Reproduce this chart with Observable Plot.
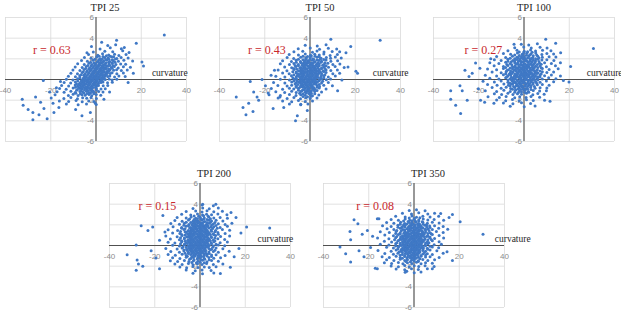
<!DOCTYPE html>
<html>
<head>
<meta charset="utf-8">
<script src="https://cdn.jsdelivr.net/npm/d3@7"></script>
<script src="https://cdn.jsdelivr.net/npm/@observablehq/plot@0.6"></script>
<style>
  html, body { margin: 0; padding: 0; background: #ffffff; }
  #chart { position: relative; width: 621px; height: 311px; overflow: hidden; background: #ffffff; }
</style>
</head>
<body>
<div id="chart"></div>
<script>
// ---------- data ----------
const titles = ["TPI 25", "TPI 50", "TPI 100", "TPI 200", "TPI 350"];
const rValues = ["0.63", "0.43", "0.27", "0.15", "0.08"];
const xTicks = [-40, -20, 0, 20, 40];
const yTicks = [-6, -4, -2, 0, 2, 4, 6];
const axisLabel = "curvature";

const tpi25 = [
[30.2,4.3],[17.8,3.5],[9.1,3.8],[20.3,1.7],[21,1.3],[16.5,0.6],[14.2,-0.3],[-23.3,-0.1],[-15.7,-0.2],[-32.6,-1.9],[-32.2,-2.5],[-26.7,-1.7],[-30,-2.9],[-27.9,-3.2],[-27.9,-3.9],[-25.2,-3.4],[-21.6,-3.8],[-24.5,-2.2],[-23,-2.8],[-18.6,-3.2],[-16.4,-2.7],[-6.2,-3.5],[-2.5,-3.2],[-0.3,-2.3],[-20.5,-1.2],[-19,-2.3],[-17.5,-0.8],[-9,-2.9],[3.5,-1.9],[6,-1.2],[12.5,3.1],[2.5,3.6],[-4,2.6],[-2,3.2],
[5.2,3.28],[8.7,3.36],
[1.8,2.95],[6.3,3.07],[11.2,2.98],
[-1.2,2.66],[3.9,2.74],[7.4,2.69],[11.8,2.78],[14.6,2.62],
[-3.3,2.43],[0.8,2.35],[2.9,2.48],[5.6,2.37],[8.2,2.45],[10.1,2.33],[13.3,2.41],
[-5.1,2.12],[-2.2,2.05],[0.3,2.17],[1.9,2.02],[3.8,2.14],[5.3,2.08],[6.9,2.19],[9.2,2.04],[11.1,2.13],[14.2,2.07],
[-6.4,1.83],[-3.8,1.76],[-1.3,1.87],[0.9,1.74],[2.2,1.85],[3.4,1.79],[4.8,1.88],[6.1,1.73],[7.7,1.82],[9.9,1.77],[12.3,1.86],[16.2,1.79],
[-8.1,1.52],[-5.2,1.46],[-3.1,1.57],[-1.8,1.44],[-0.2,1.53],[1.3,1.47],[2.4,1.58],[3.3,1.43],[4.2,1.55],[5.8,1.49],[7.2,1.56],[8.8,1.45],[10.9,1.51],[13.1,1.48],
[-9.2,1.21],[-6.1,1.16],[-4.3,1.27],[-2.8,1.13],[-1.1,1.24],[0.2,1.18],[1.1,1.26],[2.1,1.12],[3.2,1.22],[4.1,1.15],[5.2,1.28],[6.8,1.17],[8.1,1.25],[9.8,1.11],[12.1,1.23],[15.2,1.19],
[-10.2,0.92],[-7.1,0.86],[-5.3,0.97],[-3.9,0.84],[-2.1,0.93],[-0.8,0.88],[0.1,0.96],[1.2,0.83],[2.1,0.91],[3.1,0.87],[3.9,0.98],[5.1,0.85],[6.2,0.94],[7.8,0.89],[9.1,0.95],[11.2,0.86],[13.8,0.92],
[-11.1,0.61],[-8.2,0.56],[-6.1,0.67],[-4.8,0.54],[-3.2,0.63],[-1.9,0.58],[-0.9,0.66],[0.3,0.53],[1.1,0.62],[2.2,0.57],[3.1,0.68],[4.2,0.55],[5.1,0.64],[6.3,0.59],[7.1,0.65],[9.2,0.56],[12.1,0.62],
[-12.2,0.32],[-9.1,0.26],[-7.2,0.37],[-5.1,0.24],[-4.2,0.33],[-2.8,0.28],[-1.9,0.36],[-0.8,0.23],[0.2,0.31],[1.2,0.27],[2.1,0.38],[2.9,0.22],[4.1,0.34],[5.2,0.29],[6.1,0.35],[8.2,0.25],[10.1,0.33],[12.9,0.28],
[-13.1,0.02],[-10.2,-0.04],[-8.1,0.07],[-6.2,-0.06],[-4.9,0.03],[-4.1,-0.02],[-2.9,0.06],[-2.1,-0.07],[-1.1,0.04],[0.1,-0.03],[0.9,0.05],[2.1,-0.05],[3.2,0.08],[4.1,-0.01],[5.8,0.04],[7.1,-0.06],[9.2,0.03],
[-14.1,-0.28],[-11.2,-0.34],[-9.1,-0.23],[-7.2,-0.36],[-6.1,-0.27],[-5.2,-0.32],[-3.9,-0.24],[-3.1,-0.35],[-2.2,-0.26],[-0.9,-0.33],[0.2,-0.25],[1.1,-0.37],[2.2,-0.29],[3.1,-0.23],[5.1,-0.31],[7.2,-0.27],
[-15.2,-0.58],[-12.1,-0.64],[-9.2,-0.53],[-8.1,-0.66],[-6.9,-0.57],[-5.8,-0.62],[-5.1,-0.54],[-3.8,-0.67],[-3.1,-0.56],[-1.9,-0.63],[-0.8,-0.55],[0.2,-0.65],[1.1,-0.59],[3.2,-0.61],[5.2,-0.57],
[-16.1,-0.88],[-13.2,-0.94],[-10.1,-0.83],[-8.2,-0.96],[-7.1,-0.87],[-6.2,-0.92],[-4.9,-0.84],[-4.1,-0.95],[-2.8,-0.86],[-1.9,-0.93],[0.1,-0.85],[2.2,-0.91],[4.1,-0.89],
[-17.2,-1.18],[-14.1,-1.24],[-11.1,-1.13],[-9.2,-1.26],[-7.1,-1.17],[-5.9,-1.22],[-4.2,-1.14],[-3.1,-1.27],[-1.8,-1.16],[-0.9,-1.23],[1.2,-1.15],[3.1,-1.21],
[-18.1,-1.48],[-12.2,-1.54],[-10.1,-1.43],[-7.9,-1.56],[-6.2,-1.47],[-4.8,-1.52],[-3.1,-1.44],[-1.9,-1.57],[0.1,-1.46],[2.1,-1.53],
[-19.8,-1.78],[-14.2,-1.84],[-11.1,-1.73],[-8.2,-1.86],[-5.9,-1.77],[-4.1,-1.82],[-2.2,-1.74],[0.2,-1.85],
[-16.2,-2.08],[-12.1,-2.14],[-8.8,-2.03],[-6.1,-2.16],[-3.2,-2.07],[-0.9,-2.12],
[-13.1,-2.38],[-7.9,-2.44],[-4.2,-2.36],[0.1,-2.42],
[1.4,2.26],[3.1,2.22],[4.6,2.29],[6.2,2.24],[7.8,2.21],
[-0.5,1.96],[1.2,1.92],[2.8,1.99],[4.3,1.94],[5.7,1.97],[7.2,1.91],[8.6,1.98],
[-2.4,1.66],[-0.9,1.62],[0.6,1.69],[1.9,1.64],[3.0,1.67],[4.4,1.61],[5.6,1.68],[7.1,1.63],[8.4,1.66],
[-3.6,1.36],[-2.1,1.32],[-0.6,1.39],[0.7,1.34],[1.7,1.37],[2.7,1.31],[3.8,1.38],[4.8,1.33],[6.1,1.36],[7.5,1.32],
[-4.6,1.06],[-3.2,1.02],[-1.6,1.09],[-0.4,1.04],[0.6,1.07],[1.6,1.01],[2.6,1.08],[3.5,1.03],[4.6,1.06],[5.7,1.02],[7.1,1.08],
[-5.6,0.76],[-4.2,0.72],[-2.7,0.79],[-1.4,0.74],[-0.3,0.77],[0.7,0.71],[1.6,0.78],[2.6,0.73],[3.5,0.76],[4.6,0.72],[5.7,0.79],
[-6.6,0.46],[-5.4,0.42],[-3.6,0.49],[-2.3,0.44],[-1.3,0.47],[-0.3,0.41],[0.7,0.48],[1.6,0.43],[2.6,0.46],[3.5,0.42],[4.6,0.49],
[-7.1,0.16],[-5.6,0.12],[-4.5,0.19],[-3.4,0.14],[-2.4,0.17],[-1.5,0.11],[-0.4,0.18],[0.6,0.13],[1.6,0.16],[2.6,0.12],[3.6,0.19],
[-8.1,-0.14],[-6.6,-0.18],[-5.4,-0.11],[-4.4,-0.16],[-3.4,-0.13],[-2.5,-0.19],[-1.5,-0.12],[-0.4,-0.17],[0.6,-0.14],[1.7,-0.18],[2.7,-0.11],
[-8.6,-0.44],[-7.5,-0.48],[-6.4,-0.41],[-5.5,-0.46],[-4.4,-0.43],[-3.5,-0.49],[-2.6,-0.42],[-1.4,-0.47],[-0.3,-0.44],[0.8,-0.48],
[-9.1,-0.74],[-7.6,-0.78],[-6.5,-0.71],[-5.5,-0.76],[-4.5,-0.73],[-3.4,-0.79],[-2.4,-0.72],[-1.3,-0.77],[-0.2,-0.74],
[-8.6,-1.04],[-6.6,-1.08],[-5.1,-1.01],[-3.6,-1.06],[-2.4,-1.03],[-1.4,-1.09],[0.2,-1.02],
[-8.9,-1.34],[-6.9,-1.38],[-5.4,-1.31],[-4.0,-1.36],[-2.5,-1.33],[-1.0,-1.39]
];

const tpi50 = [
[31,3.8],[20.3,0.8],[21,0.6],[18,3.2],[15.9,2.6],[9.2,3.9],[-32.6,-1.7],[-28.3,-3.4],[-29.6,-2.7],[-27.1,-2.3],[-25.2,-3.1],[-22.7,-2],[-26.4,-0.2],[-21.2,0],[-19.7,-0.6],[-15.7,0.9],[-16.3,-2.8],[-11.6,-2.7],[-5.6,-3.5],[-6.4,-4],[-1.2,-3],[-4.1,-2.4],[-23.4,-1.7],[-24.9,-1.2],[-13.3,-1.7],[-18.5,-1.3],[-17.2,0.4],[12.2,-1.1],[16.8,1.2],
[-2.1,3.31],[3.2,3.24],[7.1,3.37],
[-5.2,2.97],[0.1,3.05],[4.2,2.93],[8.1,3.02],[11.8,2.96],
[-7.1,2.68],[-3.2,2.74],[1.1,2.63],[3.1,2.77],[6.2,2.66],[9.8,2.72],[13.1,2.69],
[-9.2,2.42],[-5.1,2.36],[-2.1,2.47],[0.2,2.34],[2.1,2.44],[4.1,2.38],[6.1,2.46],[8.9,2.33],[12.1,2.41],
[-10.1,2.12],[-7.2,2.04],[-4.1,2.16],[-1.9,2.07],[0.1,2.14],[1.2,2.02],[3.1,2.18],[4.9,2.06],[7.2,2.13],[9.1,2.05],[11.2,2.17],[13.8,2.09],
[-12.1,1.82],[-8.2,1.75],[-6.1,1.87],[-4.2,1.74],[-2.1,1.84],[-0.9,1.78],[1.1,1.86],[2.2,1.73],[3.9,1.83],[5.1,1.77],[7.1,1.88],[9.2,1.76],[12.2,1.81],
[-13.1,1.52],[-9.1,1.45],[-7.1,1.56],[-5.2,1.44],[-3.1,1.54],[-2.2,1.47],[-1.1,1.57],[0.1,1.43],[1.2,1.55],[2.9,1.48],[4.1,1.53],[6.2,1.46],[7.9,1.58],[10.1,1.44],[13.2,1.51],
[-11.2,1.22],[-8.1,1.14],[-6.2,1.26],[-4.1,1.15],[-2.9,1.23],[-2.1,1.17],[-0.8,1.27],[0.2,1.13],[1.1,1.24],[2.1,1.16],[3.2,1.25],[5.1,1.12],[6.1,1.21],[8.2,1.18],[11.1,1.26],[15.1,1.15],
[-14.1,0.91],[-10.2,0.85],[-7.1,0.96],[-5.1,0.84],[-3.9,0.93],[-3.1,0.87],[-1.9,0.97],[-0.9,0.83],[0.2,0.92],[1.1,0.86],[2.1,0.95],[2.9,0.88],[4.1,0.94],[5.9,0.82],[7.1,0.91],[9.2,0.87],[12.1,0.93],
[-12.1,0.62],[-9.2,0.55],[-6.1,0.66],[-5.2,0.54],[-3.9,0.63],[-2.9,0.57],[-2.1,0.67],[-1.1,0.53],[0.1,0.64],[0.9,0.58],[2.1,0.65],[3.1,0.56],[3.9,0.62],[5.1,0.59],[7.1,0.68],[10.1,0.55],[13.1,0.61],
[-15.1,0.31],[-11.1,0.25],[-8.2,0.36],[-6.1,0.24],[-5.1,0.33],[-3.9,0.27],[-3.1,0.37],[-1.9,0.23],[-0.9,0.34],[0.2,0.26],[1.1,0.35],[2.2,0.22],[3.1,0.32],[4.9,0.28],[6.2,0.36],[8.1,0.25],[11.2,0.33],
[-13.1,0.03],[-9.1,-0.05],[-7.1,0.06],[-5.9,-0.04],[-4.1,0.04],[-3.2,-0.06],[-1.9,0.05],[-1.1,-0.02],[0.1,0.07],[1.2,-0.05],[2.1,0.02],[3.9,-0.07],[5.1,0.04],[7.2,-0.03],[9.1,0.06],[14.1,-0.04],
[-16.1,-0.28],[-11.1,-0.35],[-8.1,-0.24],[-6.2,-0.33],[-4.9,-0.26],[-4.1,-0.37],[-2.9,-0.25],[-2.1,-0.34],[-0.9,-0.27],[0.1,-0.36],[1.1,-0.23],[2.1,-0.31],[3.2,-0.26],[5.1,-0.35],[8.1,-0.29],
[-14.2,-0.58],[-10.1,-0.64],[-8.1,-0.55],[-6.1,-0.66],[-4.1,-0.57],[-3.1,-0.63],[-1.9,-0.54],[-1.1,-0.65],[0.2,-0.56],[0.9,-0.62],[3.1,-0.59],[4.2,-0.67],[6.1,-0.56],[9.9,-0.61],
[-17.1,-0.88],[-12.1,-0.95],[-9.1,-0.84],[-7.2,-0.93],[-5.1,-0.86],[-3.1,-0.96],[-2.1,-0.85],[-0.9,-0.92],[1.1,-0.87],[2.1,-0.94],[4.1,-0.83],[7.1,-0.91],
[-15.1,-1.18],[-11.2,-1.25],[-8.1,-1.14],[-6.1,-1.26],[-4.1,-1.16],[-2.1,-1.23],[-1.1,-1.13],[0.1,-1.27],[2.1,-1.17],[5.1,-1.22],
[-18.1,-1.48],[-13.1,-1.55],[-9.1,-1.44],[-6.2,-1.56],[-4.1,-1.47],[-2.1,-1.53],[0.1,-1.45],[1.1,-1.57],[3.9,-1.49],
[-14.1,-1.78],[-10.1,-1.85],[-7.1,-1.74],[-4.2,-1.86],[-1.9,-1.77],[0.1,-1.83],[3.1,-1.79],
[-12.1,-2.08],[-8.1,-2.15],[-5.1,-2.04],[-2.1,-2.13],[1.1,-2.07],
[-9.1,-2.38],[-4.1,-2.44],[-0.9,-2.36],
[-3.1,2.26],[-1.1,2.22],[0.6,2.29],[2.2,2.24],[4.1,2.21],
[-5.1,1.96],[-3.1,1.92],[-1.6,1.99],[-0.1,1.94],[1.6,1.97],[3.1,1.91],[4.6,1.98],[6.1,1.93],
[-6.1,1.66],[-4.1,1.62],[-2.6,1.69],[-1.6,1.64],[-0.5,1.67],[0.6,1.61],[1.9,1.68],[3.4,1.63],[4.9,1.66],[6.6,1.62],
[-6.6,1.36],[-5.1,1.32],[-3.5,1.39],[-2.5,1.34],[-1.5,1.37],[-0.4,1.31],[0.7,1.38],[1.6,1.33],[2.6,1.36],[4.1,1.32],[5.6,1.39],[7.1,1.34],
[-7.1,1.06],[-5.9,1.02],[-4.5,1.09],[-3.5,1.04],[-2.5,1.07],[-1.4,1.01],[-0.4,1.08],[0.6,1.03],[1.6,1.06],[2.5,1.02],[3.6,1.09],[5.1,1.04],[6.6,1.07],
[-7.6,0.76],[-6.1,0.72],[-4.5,0.79],[-3.4,0.74],[-2.5,0.77],[-1.5,0.71],[-0.5,0.78],[0.5,0.73],[1.5,0.76],[2.6,0.72],[3.5,0.79],[4.6,0.74],[6.1,0.77],
[-7.1,0.46],[-5.6,0.42],[-4.5,0.49],[-3.5,0.44],[-2.5,0.47],[-1.4,0.41],[-0.4,0.48],[0.7,0.43],[1.6,0.46],[2.6,0.42],[3.6,0.49],[5.1,0.44],[6.6,0.47],
[-7.6,0.16],[-6.1,0.12],[-4.5,0.19],[-3.5,0.14],[-2.5,0.17],[-1.5,0.11],[-0.4,0.18],[0.6,0.13],[1.6,0.16],[2.6,0.12],[3.5,0.19],[4.6,0.14],[6.1,0.17],
[-7.1,-0.14],[-5.6,-0.18],[-4.5,-0.11],[-3.5,-0.16],[-2.5,-0.13],[-1.5,-0.19],[-0.5,-0.12],[0.6,-0.17],[1.6,-0.14],[2.6,-0.18],[4.1,-0.11],[5.6,-0.16],
[-6.6,-0.44],[-5.4,-0.48],[-3.6,-0.41],[-2.5,-0.46],[-1.5,-0.43],[-0.5,-0.49],[0.5,-0.42],[1.6,-0.47],[2.6,-0.44],[4.1,-0.48],
[-6.1,-0.74],[-4.6,-0.78],[-3.5,-0.71],[-2.5,-0.76],[-1.5,-0.73],[-0.4,-0.79],[0.6,-0.72],[1.6,-0.77],[3.1,-0.74],
[-5.1,-1.04],[-3.6,-1.08],[-2.5,-1.01],[-1.5,-1.06],[-0.4,-1.03],[0.6,-1.09],[1.6,-1.02],[3.1,-1.06],
[-4.6,-1.34],[-3.1,-1.38],[-1.6,-1.31],[-0.5,-1.36],[0.6,-1.33],[2.1,-1.39],
[-3.1,-1.64],[-1.1,-1.68],[0.6,-1.61]
];

const tpi100 = [
[30.7,3],[20.6,1.25],[19.9,-0.25],[17.4,-0.1],[14,3.5],[9.6,3.9],[-26.1,0.9],[-32.4,-1.1],[-32.4,-1.9],[-30.2,-2.5],[-28,-3.3],[-28.3,-0.6],[-27.3,-1.1],[-25.1,-2],[-22.9,0.6],[-21.4,1.6],[-24.3,0.3],[-19.2,-2],[-17.4,-2.2],[-14.7,2],[-13.3,-2.3],[-4.4,3.4],[-20.2,-0.9],[-19.5,1.1],[11.5,-2.1],[16.2,2.6],
[-1.2,3.42],[2.1,3.35],[5.9,3.47],
[-4.1,3.08],[-0.1,3.15],[3.2,3.04],[7.1,3.12],[10.2,3.06],
[-7.1,2.78],[-3.1,2.84],[0.1,2.73],[2.9,2.86],[5.1,2.76],[8.2,2.83],[11.9,2.79],
[-9.1,2.52],[-5.9,2.45],[-2.9,2.56],[-0.8,2.44],[1.2,2.54],[3.1,2.47],[5.2,2.57],[7.9,2.43],[10.1,2.51],[13.1,2.46],
[-12.1,2.22],[-8.1,2.14],[-5.1,2.26],[-3.1,2.15],[-1.1,2.23],[0.2,2.17],[2.1,2.27],[3.9,2.13],[6.1,2.24],[8.1,2.16],[11.1,2.21],[14.1,2.18],
[-13.1,1.92],[-10.1,1.84],[-7.1,1.96],[-4.9,1.85],[-3.1,1.93],[-1.9,1.87],[-0.2,1.97],[1.1,1.83],[2.9,1.94],[4.1,1.86],[6.1,1.95],[7.9,1.88],[10.1,1.91],[13.2,1.84],
[-15.1,1.62],[-11.1,1.55],[-8.1,1.66],[-6.1,1.54],[-4.1,1.63],[-2.9,1.57],[-1.1,1.67],[0.1,1.53],[1.9,1.64],[3.1,1.56],[4.9,1.65],[6.9,1.58],[9.1,1.63],[12.1,1.55],[16.1,1.61],
[-13.2,1.32],[-9.1,1.25],[-7.1,1.36],[-5.1,1.24],[-3.9,1.33],[-2.1,1.27],[-1.1,1.37],[0.2,1.23],[1.1,1.34],[2.1,1.26],[3.9,1.35],[5.1,1.28],[7.1,1.31],[9.9,1.24],[13.9,1.33],
[-16.1,1.02],[-12.1,0.95],[-9.1,1.06],[-6.9,0.94],[-5.1,1.03],[-3.9,0.97],[-2.9,1.07],[-1.9,0.93],[-0.9,1.04],[0.1,0.96],[1.2,1.05],[2.9,0.98],[4.1,1.01],[5.9,0.94],[8.1,1.06],[11.1,0.97],[15.1,1.03],
[-14.1,0.72],[-10.1,0.65],[-7.9,0.76],[-6.1,0.64],[-4.9,0.73],[-3.1,0.67],[-2.1,0.77],[-1.1,0.63],[0.1,0.74],[0.9,0.66],[2.1,0.75],[3.1,0.68],[4.9,0.71],[6.1,0.64],[8.1,0.76],[10.1,0.67],[13.1,0.73],
[-17.1,0.42],[-12.1,0.35],[-9.1,0.46],[-7.1,0.34],[-5.9,0.43],[-4.1,0.37],[-3.1,0.47],[-1.9,0.33],[-0.9,0.44],[0.2,0.36],[1.1,0.45],[2.1,0.38],[3.9,0.41],[5.1,0.34],[7.1,0.46],[9.1,0.37],[12.1,0.43],[16.1,0.35],
[-15.1,0.12],[-11.1,0.05],[-8.1,0.16],[-6.1,0.04],[-4.9,0.13],[-3.9,0.07],[-2.1,0.17],[-1.1,0.03],[0.1,0.14],[1.1,0.06],[2.9,0.15],[4.1,0.08],[5.9,0.11],[8.1,0.04],[10.9,0.16],[14.1,0.07],
[-18.1,-0.18],[-13.1,-0.25],[-10.1,-0.14],[-7.1,-0.26],[-5.1,-0.17],[-4.1,-0.23],[-2.9,-0.13],[-1.9,-0.27],[-0.9,-0.16],[0.1,-0.24],[1.9,-0.15],[3.1,-0.22],[5.1,-0.19],[7.1,-0.26],[9.9,-0.14],[13.1,-0.21],
[-16.1,-0.48],[-11.9,-0.55],[-8.9,-0.44],[-6.9,-0.56],[-5.1,-0.47],[-3.1,-0.53],[-1.9,-0.43],[-0.9,-0.57],[0.9,-0.46],[2.1,-0.54],[3.9,-0.45],[5.9,-0.52],[8.1,-0.49],[11.1,-0.55],
[-14.1,-0.78],[-10.1,-0.85],[-7.9,-0.74],[-5.9,-0.86],[-4.1,-0.77],[-2.1,-0.83],[-0.9,-0.73],[0.9,-0.87],[2.9,-0.76],[4.9,-0.84],[7.1,-0.79],[10.1,-0.82],
[-17.1,-1.08],[-12.1,-1.15],[-8.9,-1.04],[-6.1,-1.16],[-3.9,-1.07],[-2.1,-1.13],[0.1,-1.03],[1.9,-1.17],[4.1,-1.06],[6.9,-1.12],[9.9,-1.09],
[-13.1,-1.38],[-9.9,-1.45],[-7.1,-1.34],[-4.9,-1.46],[-2.9,-1.37],[-1.1,-1.43],[1.1,-1.33],[3.9,-1.47],[6.1,-1.36],[8.9,-1.42],
[-15.9,-1.68],[-10.9,-1.75],[-7.9,-1.64],[-4.1,-1.76],[-1.9,-1.67],[0.9,-1.73],[3.1,-1.65],[6.9,-1.72],
[-12.1,-1.98],[-8.1,-2.05],[-5.1,-1.94],[-2.1,-2.06],[1.1,-1.97],[4.1,-2.03],[9.1,-2.01],
[-9.1,-2.28],[-4.9,-2.35],[-1.1,-2.24],[2.9,-2.33],
[-6.1,-2.58],[0.1,-2.64],[4.9,-2.56],
[-2.1,2.66],[-0.1,2.62],[1.6,2.69],[3.6,2.64],
[-4.1,2.36],[-2.1,2.32],[-0.4,2.39],[1.1,2.34],[2.6,2.37],[4.1,2.31],[5.6,2.38],
[-6.1,2.06],[-4.1,2.02],[-2.5,2.09],[-1.5,2.04],[-0.5,2.07],[0.6,2.01],[1.6,2.08],[2.6,2.03],[3.6,2.06],[5.1,2.02],[6.6,2.09],
[-7.1,1.76],[-5.6,1.72],[-4.1,1.79],[-2.5,1.74],[-1.5,1.77],[-0.5,1.71],[0.6,1.78],[1.5,1.73],[2.5,1.76],[3.6,1.72],[5.1,1.79],[6.6,1.74],
[-7.6,1.46],[-5.4,1.42],[-3.5,1.49],[-2.5,1.44],[-1.5,1.47],[-0.5,1.41],[0.6,1.48],[1.6,1.43],[2.6,1.46],[3.6,1.42],[4.5,1.49],[5.9,1.44],[7.6,1.47],
[-8.1,1.16],[-6.1,1.12],[-4.5,1.19],[-3.4,1.14],[-2.5,1.17],[-1.5,1.11],[-0.5,1.18],[0.6,1.13],[1.6,1.16],[2.6,1.12],[3.6,1.19],[4.6,1.14],[6.1,1.17],[7.6,1.13],
[-7.6,0.86],[-5.9,0.82],[-4.4,0.89],[-3.5,0.84],[-2.4,0.87],[-1.4,0.81],[-0.4,0.88],[0.6,0.83],[1.6,0.86],[2.5,0.82],[3.6,0.89],[4.6,0.84],[5.6,0.87],[7.1,0.83],
[-8.1,0.56],[-6.6,0.52],[-5.4,0.59],[-4.1,0.54],[-2.6,0.57],[-1.5,0.51],[-0.4,0.58],[0.5,0.53],[1.6,0.56],[2.6,0.52],[3.5,0.59],[4.6,0.54],[5.6,0.57],[7.6,0.53],
[-7.6,0.26],[-5.6,0.22],[-4.4,0.29],[-3.5,0.24],[-2.6,0.27],[-1.5,0.21],[-0.4,0.28],[0.6,0.23],[1.6,0.26],[2.5,0.22],[3.6,0.29],[4.6,0.24],[6.1,0.27],[7.1,0.23],
[-7.1,-0.04],[-5.4,-0.08],[-4.4,-0.01],[-3.1,-0.06],[-1.6,-0.03],[-0.5,-0.09],[0.6,-0.02],[1.6,-0.07],[2.6,-0.04],[3.6,-0.08],[4.6,-0.01],[6.1,-0.06],
[-6.6,-0.34],[-5.9,-0.38],[-4.6,-0.31],[-3.5,-0.36],[-2.4,-0.33],[-1.4,-0.39],[-0.4,-0.32],[0.5,-0.37],[1.6,-0.34],[2.6,-0.38],[4.1,-0.31],[5.6,-0.36],
[-6.1,-0.64],[-4.6,-0.68],[-3.4,-0.61],[-2.5,-0.66],[-1.5,-0.63],[-0.4,-0.69],[0.6,-0.62],[1.6,-0.67],[3.1,-0.64],[4.6,-0.68],
[-5.1,-0.94],[-3.6,-0.98],[-2.6,-0.91],[-1.4,-0.96],[-0.4,-0.93],[0.6,-0.99],[1.6,-0.92],[3.1,-0.96],
[-4.1,-1.24],[-2.5,-1.28],[-1.1,-1.21],[0.4,-1.26],[2.1,-1.23]
];

const tpi200 = [
[30.8,1.7],[20.6,1.8],[18.1,1.2],[15.9,2.7],[13.7,3.2],[-26,1.9],[-23,1.45],[-20.9,1.8],[-28.2,0.05],[-32.2,-0.9],[-27.8,-1.4],[-28.2,-2.4],[-25.3,-2],[-27.2,-1.8],[-21.6,-0.5],[-17.9,0.5],[-17.9,-2.25],[-16.4,2.9],[9,-2.7],[13.4,-2.1],[15.1,-1.1],[7,4],[1.2,4],[-19.5,-1.2],[-15.5,1.3],[17.2,-0.3],
[0.9,3.92],[5.9,3.85],
[-3.1,3.58],[1.2,3.64],[4.1,3.55],[8.1,3.62],
[-6.1,3.28],[-1.9,3.34],[0.9,3.25],[3.1,3.36],[6.1,3.27],[9.9,3.32],
[-8.1,3.02],[-4.1,2.95],[-1.1,3.06],[1.1,2.94],[2.9,3.03],[5.1,2.97],[7.9,3.05],[11.9,2.98],
[-10.1,2.72],[-6.1,2.65],[-3.9,2.76],[-1.9,2.64],[0.1,2.73],[1.9,2.67],[3.9,2.77],[6.1,2.66],[8.9,2.71],[12.1,2.64],
[-11.1,2.42],[-7.9,2.35],[-5.1,2.46],[-3.1,2.34],[-1.9,2.43],[-0.9,2.37],[0.9,2.47],[2.1,2.33],[3.9,2.44],[5.1,2.36],[7.1,2.45],[10.1,2.38],
[-12.9,2.12],[-9.1,2.05],[-6.9,2.16],[-4.9,2.04],[-3.1,2.13],[-2.1,2.07],[-0.9,2.17],[0.1,2.03],[1.1,2.14],[2.9,2.06],[4.1,2.15],[5.9,2.08],[8.1,2.11],[11.1,2.04],[14.1,2.16],
[-11.9,1.82],[-8.1,1.75],[-6.1,1.86],[-4.1,1.74],[-2.9,1.83],[-1.9,1.77],[-0.9,1.87],[0.2,1.73],[1.1,1.84],[2.1,1.76],[3.1,1.85],[4.9,1.78],[6.1,1.81],[8.9,1.74],[12.1,1.86],
[-14.1,1.52],[-9.9,1.45],[-7.1,1.56],[-5.1,1.44],[-3.9,1.53],[-2.9,1.47],[-1.9,1.57],[-0.9,1.43],[0.1,1.54],[1.1,1.46],[2.1,1.55],[3.1,1.48],[4.9,1.51],[6.9,1.44],[9.9,1.56],[13.1,1.47],
[-12.1,1.22],[-8.9,1.15],[-6.1,1.26],[-4.9,1.14],[-3.9,1.23],[-2.9,1.17],[-2.1,1.27],[-1.1,1.13],[0.1,1.24],[0.9,1.16],[2.1,1.25],[3.1,1.18],[4.1,1.21],[5.9,1.14],[7.9,1.26],[11.1,1.17],
[-15.1,0.92],[-10.1,0.85],[-7.9,0.96],[-5.9,0.84],[-4.9,0.93],[-3.9,0.87],[-2.9,0.97],[-1.9,0.83],[-0.9,0.94],[0.1,0.86],[1.1,0.95],[2.1,0.88],[3.1,0.91],[4.9,0.84],[6.9,0.96],[9.1,0.87],[13.1,0.93],
[-13.1,0.62],[-9.1,0.55],[-6.9,0.66],[-5.1,0.54],[-4.1,0.63],[-3.1,0.57],[-2.1,0.67],[-1.1,0.53],[0.1,0.64],[0.9,0.56],[1.9,0.65],[3.1,0.58],[4.1,0.61],[5.9,0.54],[7.9,0.66],[10.9,0.57],
[-14.1,0.32],[-11.1,0.25],[-8.1,0.36],[-6.1,0.24],[-4.9,0.33],[-3.9,0.27],[-2.9,0.37],[-1.9,0.23],[-0.9,0.34],[0.1,0.26],[1.1,0.35],[2.1,0.28],[3.1,0.31],[4.9,0.24],[6.1,0.36],[8.9,0.27],[12.1,0.33],
[-12.1,0.02],[-9.1,-0.05],[-6.9,0.06],[-5.1,-0.04],[-4.1,0.03],[-3.1,-0.07],[-2.1,0.07],[-1.1,-0.03],[0.1,0.04],[1.1,-0.06],[2.1,0.05],[3.1,-0.02],[4.1,0.01],[5.9,-0.06],[8.1,0.06],[10.9,-0.03],
[-15.1,-0.28],[-10.1,-0.35],[-7.9,-0.24],[-5.9,-0.36],[-4.9,-0.27],[-3.9,-0.33],[-2.9,-0.23],[-1.9,-0.37],[-0.9,-0.26],[0.1,-0.34],[1.1,-0.25],[2.1,-0.32],[3.9,-0.29],[5.1,-0.36],[7.1,-0.24],[10.1,-0.31],
[-12.9,-0.58],[-9.1,-0.65],[-7.1,-0.54],[-5.1,-0.66],[-3.9,-0.57],[-2.9,-0.63],[-1.9,-0.53],[-0.9,-0.67],[0.1,-0.56],[1.1,-0.64],[2.1,-0.55],[3.9,-0.62],[5.9,-0.59],[8.1,-0.66],[12.9,-0.55],
[-14.1,-0.88],[-10.9,-0.95],[-7.9,-0.84],[-6.1,-0.96],[-4.1,-0.87],[-2.9,-0.93],[-1.9,-0.83],[-0.9,-0.97],[0.1,-0.86],[1.9,-0.94],[3.1,-0.85],[5.1,-0.92],[7.1,-0.89],[11.1,-0.96],
[-12.1,-1.18],[-8.9,-1.25],[-6.1,-1.14],[-4.1,-1.26],[-2.9,-1.17],[-1.1,-1.23],[0.1,-1.13],[1.9,-1.27],[3.9,-1.16],[6.1,-1.24],[9.1,-1.19],
[-13.1,-1.48],[-9.9,-1.55],[-6.9,-1.44],[-4.9,-1.56],[-2.9,-1.47],[-0.9,-1.53],[1.1,-1.43],[3.1,-1.57],[5.1,-1.46],[8.1,-1.52],
[-11.1,-1.78],[-7.9,-1.85],[-5.1,-1.74],[-3.1,-1.86],[-1.1,-1.77],[0.9,-1.83],[2.9,-1.75],[5.9,-1.84],[10.1,-1.79],
[-8.9,-2.08],[-5.9,-2.15],[-3.1,-2.04],[-0.9,-2.13],[1.9,-2.07],[4.1,-2.14],[7.1,-2.05],
[-6.1,-2.38],[-2.1,-2.45],[0.9,-2.36],[4.9,-2.42],
[-3.1,-2.68],[1.1,-2.74],[6.1,-2.66],
[-2.6,2.86],[-0.6,2.82],[1.6,2.89],[3.6,2.84],
[-4.6,2.56],[-2.6,2.52],[-1.1,2.59],[0.4,2.54],[1.6,2.57],[3.1,2.51],[4.6,2.58],
[-6.1,2.26],[-4.1,2.22],[-2.6,2.29],[-1.5,2.24],[-0.4,2.27],[0.6,2.21],[1.6,2.28],[3.1,2.23],[4.6,2.26],[6.6,2.22],
[-7.1,1.96],[-5.1,1.92],[-3.6,1.99],[-2.5,1.94],[-1.4,1.97],[-0.4,1.91],[0.6,1.98],[1.6,1.93],[2.6,1.96],[3.6,1.92],[5.1,1.99],[7.1,1.94],
[-8.1,1.66],[-6.6,1.62],[-4.6,1.69],[-3.4,1.64],[-2.4,1.67],[-1.4,1.61],[-0.4,1.68],[0.6,1.63],[1.6,1.66],[2.6,1.62],[3.9,1.69],[5.6,1.64],[7.6,1.67],
[-8.6,1.36],[-6.6,1.32],[-5.4,1.39],[-4.4,1.34],[-3.4,1.37],[-2.5,1.31],[-1.5,1.38],[-0.5,1.33],[0.5,1.36],[1.6,1.32],[2.6,1.39],[3.6,1.34],[5.1,1.37],[6.6,1.33],
[-8.1,1.06],[-6.6,1.02],[-5.4,1.09],[-4.4,1.04],[-3.5,1.07],[-2.5,1.01],[-1.5,1.08],[-0.5,1.03],[0.6,1.06],[1.6,1.02],[2.6,1.09],[3.6,1.04],[4.6,1.07],[6.1,1.03],[8.1,1.08],
[-8.6,0.76],[-6.9,0.72],[-5.4,0.79],[-4.4,0.74],[-3.4,0.77],[-2.4,0.71],[-1.4,0.78],[-0.4,0.73],[0.6,0.76],[1.6,0.72],[2.6,0.79],[3.6,0.74],[5.1,0.77],[6.6,0.73],
[-8.1,0.46],[-6.6,0.42],[-5.5,0.49],[-4.4,0.44],[-3.4,0.47],[-2.4,0.41],[-1.4,0.48],[-0.4,0.43],[0.6,0.46],[1.6,0.42],[2.6,0.49],[3.6,0.44],[4.6,0.47],[6.6,0.43],
[-8.6,0.16],[-6.9,0.12],[-5.6,0.19],[-4.5,0.14],[-3.5,0.17],[-2.5,0.11],[-1.5,0.18],[-0.5,0.13],[0.6,0.16],[1.6,0.12],[2.6,0.19],[3.6,0.14],[5.1,0.17],[7.1,0.13],
[-7.6,-0.14],[-6.1,-0.18],[-4.5,-0.11],[-3.5,-0.16],[-2.4,-0.13],[-1.4,-0.19],[-0.4,-0.12],[0.6,-0.17],[1.6,-0.14],[2.6,-0.18],[3.6,-0.11],[5.6,-0.16],
[-7.1,-0.44],[-5.6,-0.48],[-4.5,-0.41],[-3.4,-0.46],[-2.4,-0.43],[-1.4,-0.49],[-0.4,-0.42],[0.6,-0.47],[1.6,-0.44],[2.6,-0.48],[4.6,-0.41],[6.6,-0.46],
[-6.6,-0.74],[-5.1,-0.78],[-3.5,-0.71],[-2.4,-0.76],[-1.4,-0.73],[-0.4,-0.79],[0.6,-0.72],[1.6,-0.77],[2.6,-0.74],[4.1,-0.78],
[-5.6,-1.04],[-3.6,-1.08],[-2.1,-1.01],[-0.6,-1.06],[0.6,-1.03],[1.6,-1.09],[3.1,-1.02],[5.1,-1.06],
[-4.6,-1.34],[-2.6,-1.38],[-1.1,-1.31],[0.4,-1.36],[2.1,-1.33],[4.1,-1.39],
[-3.6,-1.64],[-1.6,-1.68],[0.1,-1.61],[1.9,-1.66]
];

const tpi350 = [
[30.5,1.1],[20.4,2.3],[17,3],[15.5,2.7],[11.8,3.1],[-26.5,2.5],[-16.2,2.6],[-15.5,2.6],[-28.3,1.35],[-28,0.55],[-32.7,-0.15],[-30.2,-0.8],[-28,-1.6],[-24.3,-0.5],[-22.1,-1.1],[-16.2,-2.25],[-17.1,-2.2],[-20.6,1.45],[-22.9,1.1],[17,-1.45],[8.1,-2.25],[-3.2,-2.5],[-19.2,-0.2],[-18.3,0.9],[14.6,-0.6],[-24.8,2.1],
[-2.1,3.38],[1.1,3.45],[4.9,3.36],
[-5.1,3.12],[-1.1,3.05],[2.1,3.16],[6.1,3.04],[9.1,3.11],
[-8.1,2.82],[-3.9,2.75],[-0.9,2.86],[1.1,2.74],[3.9,2.83],[7.1,2.77],[10.9,2.84],
[-10.1,2.52],[-6.9,2.45],[-3.9,2.56],[-1.9,2.44],[0.1,2.53],[2.1,2.47],[4.1,2.57],[6.1,2.46],[8.9,2.51],[13.1,2.45],
[-12.1,2.22],[-8.9,2.15],[-5.9,2.26],[-4.1,2.14],[-2.1,2.23],[-0.9,2.17],[0.9,2.27],[2.1,2.13],[3.9,2.24],[5.9,2.16],[8.1,2.25],[11.1,2.18],
[-13.9,1.92],[-10.1,1.85],[-7.1,1.96],[-5.1,1.84],[-3.9,1.93],[-2.1,1.87],[-1.1,1.97],[0.1,1.83],[1.9,1.94],[3.1,1.86],[4.9,1.95],[6.9,1.88],[9.1,1.91],[12.9,1.84],
[-11.9,1.62],[-8.9,1.55],[-6.1,1.66],[-4.9,1.54],[-3.1,1.63],[-1.9,1.57],[-0.9,1.67],[0.1,1.53],[1.1,1.64],[2.1,1.56],[3.1,1.65],[4.9,1.58],[6.1,1.61],[8.1,1.54],[10.9,1.66],[14.9,1.57],
[-14.9,1.32],[-10.9,1.25],[-7.9,1.36],[-6.1,1.24],[-4.1,1.33],[-3.1,1.27],[-2.1,1.37],[-1.1,1.23],[0.1,1.34],[1.1,1.26],[2.1,1.35],[3.9,1.28],[5.1,1.31],[7.1,1.24],[9.9,1.36],[12.9,1.27],
[-12.9,1.02],[-9.1,0.95],[-6.9,1.06],[-5.1,0.94],[-3.9,1.03],[-2.9,0.97],[-1.9,1.07],[-0.9,0.93],[0.1,1.04],[1.1,0.96],[1.9,1.05],[3.1,0.98],[4.1,1.01],[6.1,0.94],[8.1,1.06],[11.1,0.97],
[-16.1,0.72],[-11.1,0.65],[-8.1,0.76],[-6.1,0.64],[-4.9,0.73],[-3.9,0.67],[-2.9,0.77],[-1.9,0.63],[-0.9,0.74],[0.1,0.66],[1.1,0.75],[2.1,0.68],[3.1,0.71],[4.9,0.64],[6.9,0.76],[9.1,0.67],[13.1,0.73],
[-13.1,0.42],[-9.9,0.35],[-7.1,0.46],[-5.1,0.34],[-4.1,0.43],[-2.9,0.37],[-2.1,0.47],[-1.1,0.33],[0.1,0.44],[0.9,0.36],[2.1,0.45],[3.1,0.38],[4.1,0.41],[5.9,0.34],[8.1,0.46],[11.1,0.37],
[-14.9,0.12],[-11.1,0.05],[-8.1,0.16],[-6.1,0.04],[-4.9,0.13],[-3.9,0.07],[-2.9,0.17],[-1.9,0.03],[-0.9,0.14],[0.1,0.06],[1.1,0.15],[2.1,0.08],[3.1,0.11],[4.9,0.04],[6.1,0.16],[8.9,0.07],[12.1,0.13],
[-12.1,-0.18],[-9.1,-0.25],[-6.9,-0.14],[-5.1,-0.26],[-4.1,-0.17],[-3.1,-0.23],[-2.1,-0.13],[-1.1,-0.27],[0.1,-0.16],[1.1,-0.24],[2.1,-0.15],[3.1,-0.22],[4.1,-0.19],[5.9,-0.26],[8.1,-0.14],[10.9,-0.21],
[-15.9,-0.48],[-10.1,-0.55],[-7.9,-0.44],[-5.9,-0.56],[-4.9,-0.47],[-3.9,-0.53],[-2.9,-0.43],[-1.9,-0.57],[-0.9,-0.46],[0.1,-0.54],[1.1,-0.45],[2.1,-0.52],[3.9,-0.49],[5.1,-0.56],[7.1,-0.44],[10.1,-0.51],
[-12.9,-0.78],[-9.1,-0.85],[-7.1,-0.74],[-5.1,-0.86],[-3.9,-0.77],[-2.9,-0.83],[-1.9,-0.73],[-0.9,-0.87],[0.1,-0.76],[1.1,-0.84],[2.1,-0.75],[3.9,-0.82],[5.9,-0.79],[8.1,-0.86],[12.9,-0.75],
[-14.1,-1.08],[-10.9,-1.15],[-7.9,-1.04],[-6.1,-1.16],[-4.1,-1.07],[-2.9,-1.13],[-1.9,-1.03],[-0.9,-1.17],[0.1,-1.06],[1.9,-1.14],[3.1,-1.05],[5.1,-1.12],[7.1,-1.09],[11.1,-1.16],
[-12.1,-1.38],[-8.9,-1.45],[-6.1,-1.34],[-4.1,-1.46],[-2.9,-1.37],[-1.1,-1.43],[0.1,-1.33],[1.9,-1.47],[3.9,-1.36],[6.1,-1.44],[9.1,-1.39],
[-13.1,-1.68],[-9.9,-1.75],[-6.9,-1.64],[-4.9,-1.76],[-2.9,-1.67],[-0.9,-1.73],[1.1,-1.63],[3.1,-1.77],[5.1,-1.66],[8.1,-1.72],
[-10.1,-1.98],[-6.9,-2.05],[-4.1,-1.94],[-2.1,-2.06],[0.1,-1.97],[2.1,-2.03],[4.9,-1.95],[8.9,-2.04],
[-7.9,-2.28],[-4.1,-2.35],[-1.1,-2.24],[1.9,-2.33],[5.9,-2.26],
[-3.9,-2.58],[0.1,-2.64],[3.1,-2.56],
[-2.1,2.66],[0.1,2.62],[2.6,2.69],
[-4.6,2.36],[-2.6,2.32],[-0.9,2.39],[0.6,2.34],[2.1,2.37],[3.6,2.31],
[-6.1,2.06],[-4.6,2.02],[-3.1,2.09],[-1.5,2.04],[-0.4,2.07],[0.6,2.01],[1.6,2.08],[2.6,2.03],[4.1,2.06],[5.6,2.02],
[-7.1,1.76],[-5.6,1.72],[-4.1,1.79],[-2.6,1.74],[-1.4,1.77],[-0.4,1.71],[0.6,1.78],[1.6,1.73],[2.6,1.76],[3.9,1.72],[5.6,1.79],[7.1,1.74],
[-7.6,1.46],[-5.6,1.42],[-4.1,1.49],[-2.5,1.44],[-1.5,1.47],[-0.5,1.41],[0.6,1.48],[1.6,1.43],[2.6,1.46],[3.6,1.42],[5.1,1.49],[6.6,1.44],
[-8.1,1.16],[-6.1,1.12],[-4.5,1.19],[-3.5,1.14],[-2.5,1.17],[-1.5,1.11],[-0.5,1.18],[0.6,1.13],[1.6,1.16],[2.6,1.12],[3.5,1.19],[4.6,1.14],[6.1,1.17],[7.6,1.13],
[-7.6,0.86],[-5.9,0.82],[-4.4,0.89],[-3.4,0.84],[-2.4,0.87],[-1.4,0.81],[-0.4,0.88],[0.6,0.83],[1.6,0.86],[2.6,0.82],[3.6,0.89],[4.6,0.84],[5.6,0.87],[7.1,0.83],
[-8.6,0.56],[-6.6,0.52],[-5.4,0.59],[-4.4,0.54],[-3.4,0.57],[-2.4,0.51],[-1.4,0.58],[-0.4,0.53],[0.6,0.56],[1.6,0.52],[2.6,0.59],[3.6,0.54],[4.6,0.57],[6.1,0.53],[7.6,0.58],
[-7.6,0.26],[-6.1,0.22],[-4.5,0.29],[-3.5,0.24],[-2.5,0.27],[-1.5,0.21],[-0.5,0.28],[0.6,0.23],[1.6,0.26],[2.6,0.22],[3.6,0.29],[5.1,0.24],[6.6,0.27],
[-8.1,-0.04],[-6.6,-0.08],[-5.4,-0.01],[-4.4,-0.06],[-3.4,-0.03],[-2.4,-0.09],[-1.4,-0.02],[-0.4,-0.07],[0.6,-0.04],[1.6,-0.08],[2.6,-0.01],[3.6,-0.06],[5.1,-0.03],[7.1,-0.08],
[-7.1,-0.34],[-5.6,-0.38],[-4.5,-0.31],[-3.5,-0.36],[-2.5,-0.33],[-1.5,-0.39],[-0.5,-0.32],[0.6,-0.37],[1.6,-0.34],[2.6,-0.38],[4.1,-0.31],[6.1,-0.36],
[-6.6,-0.64],[-5.1,-0.68],[-3.4,-0.61],[-2.4,-0.66],[-1.4,-0.63],[-0.4,-0.69],[0.6,-0.62],[1.6,-0.67],[2.6,-0.64],[4.6,-0.68],
[-6.1,-0.94],[-4.1,-0.98],[-2.6,-0.91],[-1.4,-0.96],[-0.4,-0.93],[0.6,-0.99],[1.6,-0.92],[3.1,-0.96],[5.1,-0.93],
[-5.1,-1.24],[-3.1,-1.28],[-1.6,-1.21],[-0.4,-1.26],[0.9,-1.23],[2.6,-1.29],
[-3.6,-1.54],[-1.6,-1.58],[0.1,-1.51],[1.9,-1.56]
];

const series = [tpi25, tpi50, tpi100, tpi200, tpi350];

// ---------- layout (page pixels / data-space anchors) ----------
const FRAME_W = 181, FRAME_H = 124;
const M = {left: 20, right: 45, top: 17, bottom: 10};
const layout = [
  {left: 4.5,   top: 17,    rAt: [-27.8, 2.8],  cAt: [24.7, 0.62], titleDx: 9},
  {left: 219,   top: 17,    rAt: [-27.4, 2.8],  cAt: [27.7, 0.62], titleDx: 10},
  {left: 432.5, top: 17,    rAt: [-26.3, 2.8],  cAt: [27.7, 0.62], titleDx: 10},
  {left: 108.5, top: 182.5, rAt: [-27.2, 3.76], cAt: [25.4, 0.64], titleDx: 14},
  {left: 322.5, top: 182.5, rAt: [-25.5, 3.76], cAt: [35.7, 0.64], titleDx: 14}
];

const serif = "'Liberation Serif', 'Times New Roman', serif";
const sans = "'Liberation Sans', Arial, sans-serif";
const chart = document.getElementById("chart");

series.forEach((pts, i) => {
  const L = layout[i];
  const svg = Plot.plot({
    width: FRAME_W + M.left + M.right,
    height: FRAME_H + M.top + M.bottom,
    marginLeft: M.left, marginRight: M.right, marginTop: M.top, marginBottom: M.bottom,
    x: {domain: [-40, 40], axis: null},
    y: {domain: [-6, 6], axis: null},
    style: {background: "transparent", overflow: "visible"},
    marks: [
      Plot.gridX(xTicks, {stroke: "#d9d9d9", strokeOpacity: 1, strokeWidth: 0.8}),
      Plot.gridY(yTicks, {stroke: "#d9d9d9", strokeOpacity: 1, strokeWidth: 0.8}),
      Plot.text(xTicks, {x: d => d, y: () => 0, dy: 10.5, text: d => String(d), fontSize: 8, fontFamily: sans, fill: "#8c8c8c", textAnchor: "middle"}),
      Plot.text(yTicks, {x: () => 0, y: d => d, dx: -2, text: d => String(d), fontSize: 8, fontFamily: sans, fill: "#8c8c8c", textAnchor: "end"}),
      Plot.ruleY([0], {stroke: "#505050", strokeWidth: 1.1}),
      Plot.ruleX([0], {stroke: "#505050", strokeWidth: 1.1}),
      Plot.dot(pts, {x: d => d[0], y: d => d[1], r: 1.5, fill: "#3f78c5", stroke: "none"}),
      Plot.text([`r = ${rValues[i]}`], {x: () => L.rAt[0], y: () => L.rAt[1], text: d => d, textAnchor: "start", fontSize: 12, fontFamily: serif, fill: "#c8282d"}),
      Plot.text([axisLabel], {x: () => L.cAt[0], y: () => L.cAt[1], text: d => d, textAnchor: "start", fontSize: 9.5, fontFamily: serif, fill: "#262626"}),
      Plot.text([titles[i]], {frameAnchor: "top", lineAnchor: "middle", dy: -10, dx: L.titleDx, text: d => d, fontSize: 10.5, fontFamily: serif, fill: "#262626"})
    ]
  });
  svg.style.position = "absolute";
  svg.style.left = (L.left - M.left) + "px";
  svg.style.top = (L.top - M.top) + "px";
  chart.appendChild(svg);
});
</script>
</body>
</html>
